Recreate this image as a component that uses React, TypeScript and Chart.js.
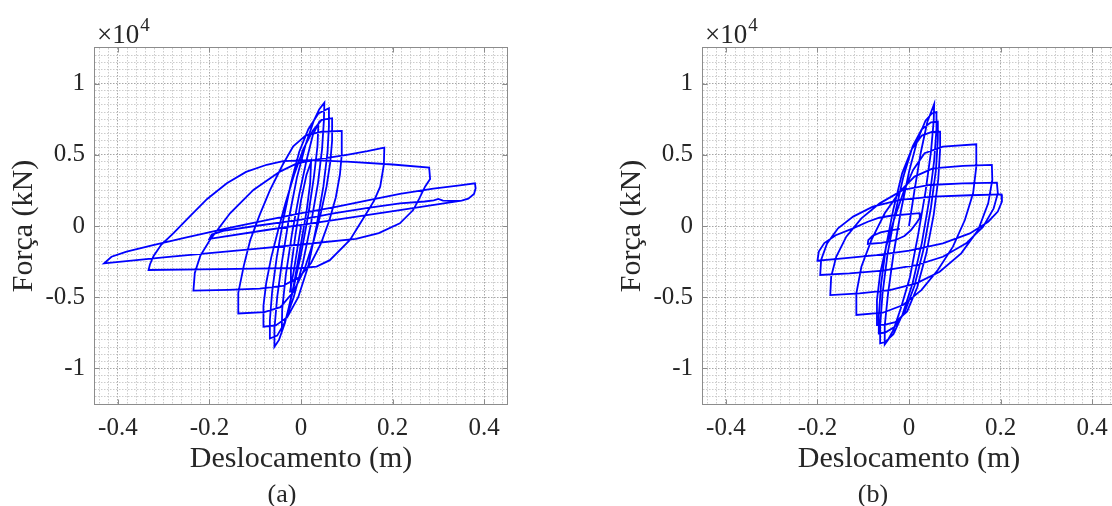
import React, { useEffect, useRef } from 'react';
import { Chart, registerables } from 'chart.js';

Chart.register(...registerables);

// ---------- axis text ----------
const xMajorTicks = [-0.4, -0.2, 0, 0.2, 0.4];
const xTickLabels = ['-0.4', '-0.2', '0', '0.2', '0.4'];
const yMajorTicks = [-1, -0.5, 0, 0.5, 1];
const yTickLabels = ['-1', '-0.5', '0', '0.5', '1'];
const xTitle = 'Deslocamento (m)';
const yTitle = 'Força (kN)';
const exponentBase = '×10';
const exponentPower = '4';

// ---------- panel (a): [displacement (m), force (×10^4 kN)] ----------
const aStart = [[0, 0], [-0.008, -0.16], [-0.016, -0.32], [-0.024, -0.46]];
const aUp1 = [[-0.022, -0.3], [-0.012, -0.06], [0.0, 0.18], [0.012, 0.36], [0.022, 0.45]];
const aDown1 = [[0.02, 0.3], [0.012, 0.1], [-0.002, -0.16], [-0.016, -0.42], [-0.03, -0.62], [-0.042, -0.74]];
const aUp2 = [[-0.041, -0.58], [-0.033, -0.34], [-0.02, -0.06], [-0.004, 0.22], [0.012, 0.46], [0.026, 0.64], [0.038, 0.72]];
const aDown2 = [[0.036, 0.56], [0.028, 0.34], [0.016, 0.08], [0.0, -0.2], [-0.018, -0.46], [-0.035, -0.68], [-0.048, -0.8], [-0.058, -0.848]];
const aUp3 = [[-0.058, -0.72], [-0.052, -0.5], [-0.041, -0.24], [-0.026, 0.06], [-0.009, 0.34], [0.01, 0.57], [0.028, 0.74], [0.04, 0.82], [0.051, 0.866]];
const aDown3 = [[0.05, 0.74], [0.046, 0.54], [0.037, 0.3], [0.022, 0.02], [0.004, -0.26], [-0.016, -0.5], [-0.036, -0.68], [-0.052, -0.77], [-0.068, -0.79]];
const aUp4 = [[-0.068, -0.66], [-0.063, -0.46], [-0.053, -0.22], [-0.039, 0.04], [-0.022, 0.3], [-0.004, 0.52], [0.016, 0.68], [0.038, 0.79], [0.061, 0.827]];
const aDown4 = [[0.061, 0.7], [0.058, 0.52], [0.049, 0.28], [0.034, 0.0], [0.016, -0.28], [-0.006, -0.5], [-0.03, -0.64], [-0.055, -0.698], [-0.082, -0.707]];
const aUp5 = [[-0.082, -0.56], [-0.076, -0.4], [-0.065, -0.22], [-0.05, -0.03], [-0.034, 0.16], [-0.015, 0.36], [0.005, 0.54], [0.026, 0.67], [0.045, 0.745], [0.068, 0.757]];
const aDown5 = [[0.068, 0.6], [0.064, 0.45], [0.056, 0.28], [0.044, 0.1], [0.028, -0.1], [0.008, -0.3], [-0.016, -0.46], [-0.045, -0.57], [-0.08, -0.605], [-0.137, -0.614]];
const aUp6 = [[-0.137, -0.47], [-0.125, -0.28], [-0.111, -0.1], [-0.09, 0.08], [-0.068, 0.25], [-0.04, 0.43], [-0.017, 0.56], [0.01, 0.635], [0.045, 0.662], [0.089, 0.668]];
const aDown6 = [[0.089, 0.5], [0.085, 0.36], [0.076, 0.2], [0.062, 0.04], [0.044, -0.12], [0.022, -0.26], [-0.004, -0.36], [-0.04, -0.42], [-0.09, -0.44], [-0.16, -0.448], [-0.235, -0.454]];
const aUp7 = [[-0.232, -0.33], [-0.22, -0.21], [-0.199, -0.098], [-0.155, 0.089], [-0.104, 0.253], [-0.046, 0.382], [-0.009, 0.44], [0.04, 0.47], [0.1, 0.5], [0.145, 0.525], [0.182, 0.55]];
const aDown7 = [[0.181, 0.43], [0.173, 0.276], [0.16, 0.18], [0.143, 0.089], [0.107, -0.098], [0.063, -0.24], [0.034, -0.285], [0.0, -0.295], [-0.1, -0.3], [-0.22, -0.305], [-0.333, -0.309]];
const aUp8 = [[-0.33, -0.27], [-0.322, -0.21], [-0.305, -0.13], [-0.279, -0.052], [-0.245, 0.06], [-0.205, 0.19], [-0.162, 0.3], [-0.12, 0.38], [-0.075, 0.43], [-0.039, 0.455], [0.02, 0.462], [0.1, 0.452], [0.2, 0.432], [0.28, 0.41]];
const aDown8 = [[0.282, 0.33], [0.271, 0.276], [0.258, 0.19], [0.245, 0.112], [0.216, 0.019], [0.17, -0.05], [0.12, -0.09], [0.0, -0.13], [-0.1, -0.16], [-0.2, -0.19], [-0.3, -0.22], [-0.43, -0.262]];
const aUp9 = [[-0.414, -0.216], [-0.381, -0.18], [-0.323, -0.134], [-0.25, -0.08], [-0.162, -0.016], [-0.075, 0.042], [-0.002, 0.089], [0.071, 0.131], [0.143, 0.178], [0.216, 0.225], [0.289, 0.262], [0.347, 0.286], [0.38, 0.3]];
const aDown9 = [[0.3815, 0.265], [0.378, 0.225], [0.3655, 0.192], [0.351, 0.178], [0.216, 0.112], [0.071, 0.042], [-0.075, -0.028], [-0.2, -0.09]];
const aEnd = [[-0.195, -0.06], [-0.17, -0.035], [-0.1, 0.0], [0.0, 0.045], [0.071, 0.089], [0.143, 0.125], [0.216, 0.159], [0.27, 0.172], [0.29, 0.18], [0.3, 0.19], [0.31, 0.178], [0.33, 0.176], [0.351, 0.178]];

// ---------- panel (b) ----------
const bStart = [[0, 0], [0.012, 0.25], [0.026, 0.52], [0.04, 0.73], [0.055, 0.857]];
const bDown1 = [[0.054, 0.74], [0.048, 0.52], [0.036, 0.24], [0.02, -0.06], [0.002, -0.36], [-0.018, -0.58], [-0.034, -0.73], [-0.046, -0.8], [-0.053, -0.832]];
const bUp2 = [[-0.053, -0.7], [-0.046, -0.48], [-0.034, -0.2], [-0.018, 0.1], [0.0, 0.38], [0.018, 0.6], [0.036, 0.74], [0.05, 0.79], [0.06, 0.8]];
const bDown2 = [[0.06, 0.68], [0.055, 0.46], [0.044, 0.18], [0.028, -0.12], [0.008, -0.4], [-0.014, -0.62], [-0.034, -0.76], [-0.052, -0.815], [-0.063, -0.824]];
const bUp3 = [[-0.063, -0.7], [-0.058, -0.48], [-0.047, -0.2], [-0.031, 0.08], [-0.012, 0.35], [0.008, 0.56], [0.028, 0.68], [0.048, 0.728], [0.063, 0.733]];
const bDown3 = [[0.063, 0.61], [0.059, 0.4], [0.048, 0.13], [0.032, -0.16], [0.012, -0.42], [-0.01, -0.61], [-0.032, -0.71], [-0.052, -0.748], [-0.066, -0.754]];
const bUp4 = [[-0.066, -0.63], [-0.061, -0.41], [-0.05, -0.14], [-0.034, 0.12], [-0.015, 0.37], [0.006, 0.54], [0.028, 0.635], [0.05, 0.66], [0.068, 0.663]];
const bDown4 = [[0.068, 0.54], [0.064, 0.33], [0.054, 0.08], [0.038, -0.19], [0.018, -0.43], [-0.004, -0.6], [-0.03, -0.675], [-0.052, -0.692], [-0.07, -0.696]];
const bUp5 = [[-0.07, -0.52], [-0.063, -0.333], [-0.05, -0.145], [-0.033, 0.042], [-0.013, 0.23], [0.009, 0.394], [0.034, 0.511], [0.074, 0.557], [0.147, 0.574]];
const bDown5 = [[0.147, 0.417], [0.14, 0.23], [0.122, 0.042], [0.096, -0.145], [0.063, -0.309], [0.027, -0.45], [-0.013, -0.555], [-0.057, -0.609], [-0.115, -0.625]];
const bUp6 = [[-0.115, -0.473], [-0.104, -0.286], [-0.082, -0.098], [-0.053, 0.089], [-0.02, 0.241], [0.012, 0.347], [0.052, 0.405], [0.118, 0.422], [0.181, 0.429]];
const bDown6 = [[0.182, 0.323], [0.173, 0.159], [0.151, -0.028], [0.114, -0.192], [0.067, -0.321], [0.016, -0.403], [-0.042, -0.45], [-0.108, -0.473], [-0.172, -0.485]];
const bUp7 = [[-0.17, -0.356], [-0.159, -0.216], [-0.137, -0.075], [-0.104, 0.054], [-0.064, 0.159], [-0.013, 0.253], [0.045, 0.288], [0.118, 0.3], [0.192, 0.305]];
const bDown7 = [[0.194, 0.23], [0.185, 0.124], [0.162, -0.005], [0.125, -0.122], [0.074, -0.216], [0.016, -0.274], [-0.057, -0.314], [-0.13, -0.333], [-0.194, -0.344]];
const bUp8 = [[-0.192, -0.239], [-0.179, -0.122], [-0.155, -0.016], [-0.122, 0.066], [-0.079, 0.136], [-0.02, 0.183], [0.052, 0.206], [0.133, 0.216], [0.202, 0.222]];
const bDown8 = [[0.203, 0.171], [0.194, 0.101], [0.173, 0.03], [0.133, -0.052], [0.074, -0.122], [0.001, -0.173], [-0.071, -0.204], [-0.144, -0.227], [-0.2, -0.244]];
const bEnd = [[-0.197, -0.18], [-0.185, -0.12], [-0.16, -0.065], [-0.125, -0.02], [-0.09, 0.03], [-0.065, 0.058], [-0.04, 0.072], [0.0, 0.084], [0.023, 0.09], [0.024, 0.06], [0.016, 0.02], [0.004, -0.03], [-0.01, -0.07], [-0.03, -0.1], [-0.06, -0.118], [-0.09, -0.126], [-0.089, -0.1], [-0.08, -0.07], [-0.062, -0.045], [-0.04, -0.03], [-0.02, -0.02]];

const panelA = [aStart, aUp1, aDown1, aUp2, aDown2, aUp3, aDown3, aUp4, aDown4, aUp5, aDown5, aUp6, aDown6, aUp7, aDown7, aUp8, aDown8, aUp9, aDown9, aEnd];
const panelB = [bStart, bDown1, bUp2, bDown2, bUp3, bDown3, bUp4, bDown4, bUp5, bDown5, bUp6, bDown6, bUp7, bDown7, bUp8, bDown8, bEnd];

const FONT = '"Liberation Serif", "Times New Roman", serif';
const TEXT = '#262626';

function gridValues(min: number, max: number, step: number) {
  const out: number[] = [];
  const n = Math.round((max - min) / step);
  for (let i = 0; i <= n; i++) out.push(Math.round((min + i * step) * 10000) / 10000);
  return out;
}
const xGrid = gridValues(-0.44, 0.44, 0.02);
const yGrid = gridValues(-1.2, 1.2, 0.05);

const isIn = (v: number, list: number[]) => list.some((m) => Math.abs(m - v) < 1e-6);
const labelFor = (v: number, ticks: number[], labels: string[]) => {
  const i = ticks.findIndex((m) => Math.abs(m - v) < 1e-6);
  return i >= 0 ? labels[i] : '';
};

function Panel({ cycles, caption, captionX, left }: { cycles: number[][][]; caption: string; captionX: number; left: number }) {
  const ref = useRef<HTMLCanvasElement | null>(null);
  useEffect(() => {
    if (!ref.current) return;
    const points = cycles.flat().map(([x, y]) => ({ x, y }));
    const framePlugin = {
      id: 'frame',
      afterDraw(chart: any) {
        const { ctx, chartArea: a, scales } = chart;
        const xs = scales.x;
        const ys = scales.y;
        ctx.save();
        ctx.strokeStyle = '#8c8c8c';
        ctx.lineWidth = 1;
        const L = a.left - 0.5, R = a.right + 0.5, T = a.top - 0.5, B = a.bottom + 0.5;
        ctx.strokeRect(L, T, R - L, B - T);
        ctx.beginPath();
        xMajorTicks.forEach((v) => {
          const p = Math.round(xs.getPixelForValue(v)) + 0.5;
          ctx.moveTo(p, B); ctx.lineTo(p, B - 5);
          ctx.moveTo(p, T); ctx.lineTo(p, T + 5);
        });
        yMajorTicks.forEach((v) => {
          const p = Math.round(ys.getPixelForValue(v)) + 0.5;
          ctx.moveTo(L, p); ctx.lineTo(L + 5, p);
          ctx.moveTo(R, p); ctx.lineTo(R - 5, p);
        });
        ctx.stroke();
        ctx.fillStyle = TEXT;
        ctx.textBaseline = 'alphabetic';
        ctx.textAlign = 'left';
        ctx.font = `27px ${FONT}`;
        ctx.fillText(exponentBase, a.left + 2, 43);
        const w = ctx.measureText(exponentBase).width;
        ctx.font = `19px ${FONT}`;
        ctx.fillText(exponentPower, a.left + 2 + w + 1, 31);
        ctx.font = `26px ${FONT}`;
        ctx.textAlign = 'center';
        ctx.fillText(caption, captionX, 502);
        ctx.restore();
      },
    };
    const chart = new Chart(ref.current, {
      type: 'scatter',
      data: {
        datasets: [
          {
            data: points,
            showLine: true,
            borderColor: '#0000ff',
            borderWidth: 1.8,
            pointRadius: 0,
            pointHoverRadius: 0,
            tension: 0,
          },
        ],
      },
      options: {
        animation: false,
        responsive: false,
        devicePixelRatio: 1,
        events: [],
        layout: { padding: { left: 0, top: 48, right: 49, bottom: 0 } },
        plugins: { legend: { display: false }, tooltip: { enabled: false }, title: { display: false } },
        scales: {
          x: {
            type: 'linear',
            min: -0.45,
            max: 0.45,
            afterBuildTicks: (s: any) => { s.ticks = xGrid.map((v) => ({ value: v })); },
            afterFit: (s: any) => { s.height = 102; },
            ticks: {
              autoSkip: false,
              maxRotation: 0,
              minRotation: 0,
              padding: 9.5,
              color: TEXT,
              font: { family: FONT, size: 25 },
              callback: (v: any) => labelFor(Number(v), xMajorTicks, xTickLabels),
            },
            grid: {
              drawTicks: false,
              lineWidth: 1,
              color: (c: any) => (c.tick && isIn(c.tick.value, xMajorTicks) ? '#a6a6a6' : '#cccccc'),
            },
            border: { display: false, dash: [1.5, 1.5] },
            title: { display: true, text: xTitle, color: TEXT, font: { family: FONT, size: 30 }, padding: { top: 0, bottom: 29 } },
          },
          y: {
            type: 'linear',
            min: -1.25,
            max: 1.25,
            afterBuildTicks: (s: any) => { s.ticks = yGrid.map((v) => ({ value: v })); },
            afterFit: (s: any) => { s.width = 95; },
            ticks: {
              autoSkip: false,
              padding: 10,
              color: TEXT,
              font: { family: FONT, size: 25 },
              callback: (v: any) => labelFor(Number(v), yMajorTicks, yTickLabels),
            },
            grid: {
              drawTicks: false,
              lineWidth: 1,
              color: (c: any) => (c.tick && isIn(c.tick.value, yMajorTicks) ? '#a6a6a6' : '#cccccc'),
            },
            border: { display: false, dash: [1.5, 1.5] },
            title: { display: true, text: yTitle, color: TEXT, font: { family: FONT, size: 30 }, padding: { top: 6, bottom: 0 } },
          },
        },
      },
      plugins: [framePlugin],
    } as any);
    return () => chart.destroy();
  }, [cycles, caption, captionX]);
  return (
    <canvas
      ref={ref}
      width={556}
      height={506}
      style={{ position: 'absolute', left, top: 0, width: 556, height: 506, display: 'block' }}
    />
  );
}

export default function App() {
  return (
    <div style={{ position: 'fixed', left: 0, top: 0, width: 1112, height: 506, overflow: 'hidden', background: '#ffffff' }}>
      <Panel cycles={panelA} caption="(a)" captionX={282} left={0} />
      <Panel cycles={panelB} caption="(b)" captionX={265} left={608} />
    </div>
  );
}
